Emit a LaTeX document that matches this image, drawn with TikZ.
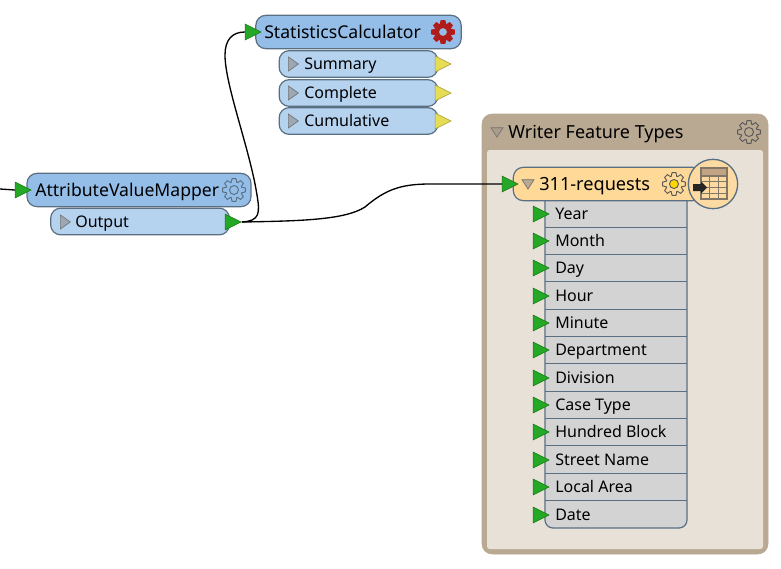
\documentclass[tikz,border=0pt]{standalone}
\usepackage{fontspec}
\setmainfont{Noto Sans}
\usetikzlibrary{shapes.geometric}
\definecolor{hdrblue}{HTML}{94BDE8}
\definecolor{portblue}{HTML}{B5D2EF}
\definecolor{edgeblue}{HTML}{5A7082}
\definecolor{tipgreen}{HTML}{25A825}
\definecolor{tipyellow}{HTML}{E6DC55}
\definecolor{wrtan}{HTML}{B9A892}
\definecolor{wrbeige}{HTML}{E8E1D8}
\definecolor{wrorange}{HTML}{FFD998}
\definecolor{rowgray}{HTML}{D3D3D3}
\definecolor{gearred}{HTML}{B01C1C}
\tikzset{
 hdrbox/.style={draw=edgeblue,line width=0.9pt,fill=hdrblue,rounded corners=7.5pt,inner sep=0pt},
 portbox/.style={draw=edgeblue,line width=0.9pt,fill=portblue,rounded corners=7.5pt,inner sep=0pt},
 tip/.style={shape=isosceles triangle,isosceles triangle stretches,inner sep=0pt,
  minimum width=12pt,minimum height=12pt,draw=#1!70!black,fill=#1,line width=0.4pt},
 greentip/.style={tip=tipgreen},
 yellowtip/.style={tip=tipyellow},
 expander/.style={shape=isosceles triangle,isosceles triangle stretches,inner sep=0pt,
  minimum width=9pt,minimum height=7pt,draw=black!55,fill=#1,line width=0.5pt},
 hdrtext/.style={anchor=base west,inner sep=0pt,font=\fontsize{13.2}{16}\selectfont},
 porttext/.style={anchor=base west,inner sep=0pt,font=\fontsize{12}{14}\selectfont},
 wire/.style={draw=black,line width=1pt},
 pics/gearicon/.style n args={3}{code={
  \draw[fill=#1,draw=#2,line width=0.7pt,line join=round] (-19:8.2)
   \foreach \a in {0,45,...,315} {-- (\a-19:8.2) -- (\a-10:11.5) -- (\a+10:11.5) -- (\a+19:8.2)} -- cycle;
  \draw[fill=#3,draw=#2,line width=0.7pt] (0,0) circle (4.5);
 }},
}
\begin{document}
\begin{tikzpicture}[x=0.75pt,y=-0.75pt]
 \useasboundingbox (0,0) rectangle (781,568);
 % writer panel
 \draw[fill=wrtan,draw=wrtan,rounded corners=7.5pt] (482,114) rectangle (768,554);
 \fill[wrbeige,rounded corners=2pt] (487,150) -- (763,150) -- (763,549) -- (487,549) -- cycle;
 \node[hdrtext,font=\fontsize{13.5}{16}\selectfont] (wrtitle) at (508,138) {Writer Feature Types};
 \node[expander=wrtan!70!gray,shape border rotate=270] (wrexp) at (497,131) {};
 \pic at (749,132) {gearicon={wrtan}{black!65}{wrtan}};
 % attribute table
 \draw[fill=rowgray,draw=edgeblue,line width=0.9pt] (545,198) [rounded corners=6pt] -- (545,528) -- (687,528) [sharp corners] -- (687,198) -- cycle;
 \foreach \n/\y/\t in {0/214/Year,1/241/Month,2/268/Day,3/296/Hour,4/323/Minute,5/350/Department,
   6/378/Division,7/405/Case Type,8/432/Hundred Block,9/460/Street Name,10/487/Local Area,11/515/Date}{
  \ifnum\n<11 \draw[edgeblue,line width=0.9pt] (545,\y+13.7) -- (687,\y+13.7); \fi
  \node[porttext] (attr\n) at (555,\y+5) {\t};
  \node[greentip] (attrtip\n) at (538,\y) {};
 }
 % writer feature type
 \node[draw=edgeblue,line width=0.9pt,fill=wrorange,rounded corners=7.5pt,minimum width=142pt,minimum height=25pt,inner sep=0pt] (wrbox) at (608,184) {};
 \node[greentip] (wrtip) at (507,184) {};
 \node[expander=wrtan,shape border rotate=270] (wrbexp) at (528,183) {};
 \node[hdrtext,font=\fontsize{13.6}{16}\selectfont] (wrname) at (539,190) {311-requests};
 \pic at (674,184) {gearicon={wrorange}{black!65}{yellow!75!orange}};
 \node[circle,draw=edgeblue,line width=1pt,fill=wrorange!85!wrbeige,minimum size=37pt,inner sep=0pt] (wricon) at (713,184) {};
 \draw[wrtan!70!black,fill=wrtan!90!orange,line width=0.6pt] (701,168) rectangle (727,176);
 \foreach \y in {176,181.8,187.6,193.4}
  \draw[wrtan!70!black,line width=0.8pt] (701,\y) -- (727,\y);
 \foreach \x in {709.7,718.4}
  \draw[wrtan!70!black,line width=0.8pt] (\x,176) -- (\x,199);
 \draw[wrtan!70!black,line width=0.8pt] (701,168) rectangle (727,199);
 \fill[black!85] (693,184) -- (701,184) -- (701,181.5) -- (707,187.5) -- (701,193.5) -- (701,191) -- (693,191) -- cycle;
 % transformers
 \node[portbox,minimum width=134pt,minimum height=20pt] (outbox) at (140,221.5) {};
 \node[hdrbox,minimum width=168pt,minimum height=25pt] (avmbox) at (139,190) {};
 \node[hdrtext] (avmname) at (35,196) {AttributeValueMapper};
 \pic at (234,190) {gearicon={hdrblue}{edgeblue}{hdrblue}};
 \node[expander=edgeblue!60,minimum width=10.5pt,minimum height=7.5pt] (outexp) at (64,222) {};
 \node[porttext] (outname) at (75,227) {Output};
 \node[greentip] (avmtip) at (20,190) {};
 \node[greentip] (outtip) at (230,222) {};
 \foreach \n/\y/\t in {sum/64/Summary,com/93/Complete,cum/121/Cumulative}{
  \node[portbox,minimum width=119pt,minimum height=20pt] (\n box) at (358.5,\y) {};
  \node[expander=edgeblue!60,minimum width=10.5pt,minimum height=7.5pt] (\n exp) at (292,\y) {};
  \node[porttext] (\n name) at (304,\y+5) {\t};
  \node[yellowtip] (\n tip) at (440,\y) {};
 }
 \node[hdrbox,minimum width=154pt,minimum height=25pt] (statbox) at (358.5,32) {};
 \node[hdrtext] (statname) at (264,38) {StatisticsCalculator};
 \pic at (443,32) {gearicon={gearred}{gearred}{hdrblue}};
 \node[greentip] (stattip) at (250,32) {};
 % connectors
 \coordinate (instub) at (0,189);
 \draw[wire] (instub) -- (avmtip.west);
 \draw[wire] (outtip.apex) .. controls (260,221) and (260,213) .. (257,195) .. controls (250,150) and (225,85) .. (225,55) .. controls (225,40) and (232,32) .. (stattip.west);
 \draw[wire] (outtip.apex) .. controls (300,221) and (345,220) .. (365,207) .. controls (385,190) and (400,184) .. (430,184) -- (wrtip.west);
\end{tikzpicture}
\end{document}
